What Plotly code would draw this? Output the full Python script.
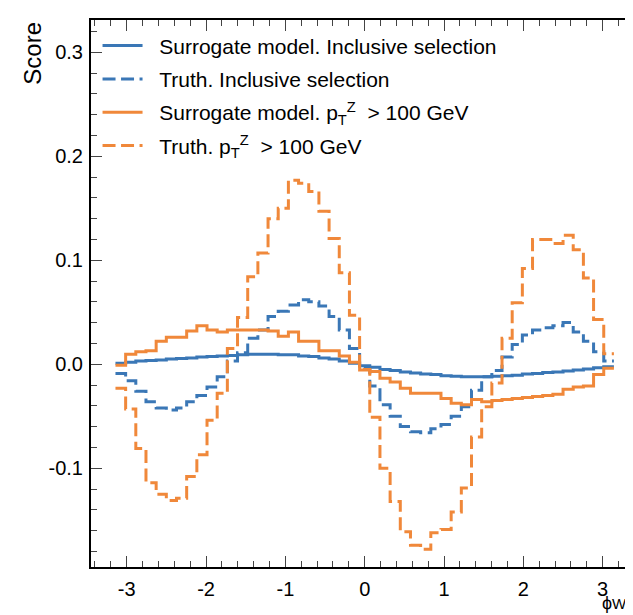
import numpy as np
import plotly.graph_objects as go

# ---------------- data (49 bins in phi_W from -pi to pi) ----------------
n_bins = 49
surr_incl = [0.001, 0.002, 0.003, 0.0035, 0.004, 0.005, 0.0055, 0.006, 0.007, 0.0075,
             0.008, 0.0085, 0.009, 0.0095, 0.0095, 0.0095, 0.009, 0.009, 0.008, 0.0075,
             0.006, 0.005, 0.003, 0.001, -0.0015, -0.003, -0.005, -0.006, -0.0075, -0.0085,
             -0.0095, -0.010, -0.011, -0.0115, -0.012, -0.012, -0.012, -0.0115, -0.011, -0.0105,
             -0.0095, -0.009, -0.008, -0.0075, -0.0065, -0.0055, -0.0045, -0.0035, -0.0025]
truth_incl = [-0.009, -0.016, -0.026, -0.036, -0.042, -0.044, -0.042, -0.036, -0.030, -0.022,
              -0.012, 0.003, 0.011, 0.025, 0.033, 0.046, 0.051, 0.057, 0.062, 0.060,
              0.056, 0.046, 0.033, 0.015, -0.003, -0.021, -0.039, -0.050, -0.060, -0.065,
              -0.066, -0.062, -0.058, -0.050, -0.041, -0.025, -0.012, -0.006, 0.007, 0.019,
              0.028, 0.033, 0.035, 0.037, 0.040, 0.031, 0.022, 0.012, 0.003]
surr_pt100 = [-0.001, 0.0095, 0.012, 0.013, 0.022, 0.026, 0.026, 0.032, 0.037, 0.033,
              0.031, 0.033, 0.033, 0.033, 0.033, 0.032, 0.027, 0.031, 0.022, 0.022,
              0.013, 0.013, 0.008, 0.002, -0.0055, -0.007, -0.0135, -0.017, -0.023, -0.028,
              -0.028, -0.028, -0.033, -0.0375, -0.039, -0.034, -0.036, -0.035, -0.034, -0.033,
              -0.032, -0.031, -0.030, -0.029, -0.024, -0.022, -0.021, -0.010, -0.004]
truth_pt100 = [-0.023, -0.043, -0.081, -0.114, -0.125, -0.131, -0.129, -0.108, -0.087, -0.054,
               -0.028, 0.015, 0.045, 0.084, 0.107, 0.140, 0.150, 0.177, 0.174, 0.166,
               0.147, 0.121, 0.088, 0.047, -0.005, -0.051, -0.100, -0.132, -0.161, -0.174,
               -0.178, -0.162, -0.159, -0.142, -0.119, -0.070, -0.041, -0.018, 0.025, 0.059,
               0.092, 0.120, 0.120, 0.116, 0.124, 0.110, 0.083, 0.043, 0.010]

NB = "\u00a0\u00a0"
series_names = [NB + "Surrogate model. Inclusive selection",
                NB + "Truth. Inclusive selection",
                NB + "Surrogate model. p<sub>T</sub><sup>Z</sup>\u00a0\u00a0> 100 GeV",
                NB + "Truth. p<sub>T</sub><sup>Z</sup>\u00a0\u00a0> 100 GeV"]

x_tick_vals = [-3, -2, -1, 0, 1, 2, 3]
x_tick_text = ["-3", "-2", "-1", "0", "1", "2", "3"]
y_tick_vals = [-0.1, 0.0, 0.1, 0.2, 0.3]
y_tick_text = ["-0.1", "0.0", "0.1", "0.2", "0.3"]

# ---------------- styling ----------------
BLUE = "#3a77b6"
ORANGE = "#f0883a"
FONT = "Liberation Sans, Arial, Helvetica, sans-serif"
DASH = "13px,5.5px"

edges = np.linspace(-np.pi, np.pi, n_bins + 1)


def step_trace(vals, name, color, dash):
    y = list(vals) + [vals[-1]]
    return go.Scatter(x=edges, y=y, mode="lines", line_shape="hv",
                      line=dict(color=color, width=3, dash=dash),
                      name=name, legendgroup=name)


fig = go.Figure()
fig.add_trace(step_trace(surr_incl, series_names[0], BLUE, "solid"))
fig.add_trace(step_trace(truth_incl, series_names[1], BLUE, DASH))
fig.add_trace(step_trace(surr_pt100, series_names[2], ORANGE, "solid"))
fig.add_trace(step_trace(truth_pt100, series_names[3], ORANGE, DASH))

axis_common = dict(showline=True, linewidth=2, linecolor="black", mirror="ticks",
                   ticks="inside", ticklen=11, tickwidth=1.2, tickcolor="#444",
                   showgrid=False, zeroline=False,
                   tickfont=dict(family=FONT, size=20, color="black"))

fig.update_xaxes(range=[-3.45, 3.42], tickvals=x_tick_vals, ticktext=x_tick_text,
                 minor=dict(ticks="inside", ticklen=6, dtick=0.2, tick0=0,
                            tickcolor="#444", tickwidth=1.0),
                 ticklabelstandoff=3, **axis_common)
fig.update_yaxes(range=[-0.195, 0.331], tickvals=y_tick_vals, ticktext=y_tick_text,
                 minor=dict(ticks="inside", ticklen=6, dtick=0.02, tick0=0,
                            tickcolor="#444", tickwidth=1.0),
                 ticklabelstandoff=2, **axis_common)

fig.update_layout(
    width=633, height=615,
    margin=dict(l=83, r=3, t=12, b=56),
    plot_bgcolor="white", paper_bgcolor="white",
    font=dict(family=FONT, size=21, color="black"),
    showlegend=True,
    legend=dict(x=0.012, y=0.99, xanchor="left", yanchor="top",
                bgcolor="rgba(0,0,0,0)", borderwidth=0,
                font=dict(family=FONT, size=21, color="black"),
                itemwidth=40, tracegroupgap=3),
    annotations=[
        dict(text="Score", xref="paper", yref="paper", x=-0.108, y=1.0,
             xanchor="center", yanchor="top", textangle=-90, showarrow=False,
             font=dict(family=FONT, size=24, color="black")),
        dict(text="ϕ<span style='font-size:15px'>W</span>", xref="paper", yref="paper",
             x=0.988, y=-0.066, xanchor="right", yanchor="middle", showarrow=False,
             font=dict(family=FONT, size=18, color="black")),
    ],
)

fig.write_html("out.html")
